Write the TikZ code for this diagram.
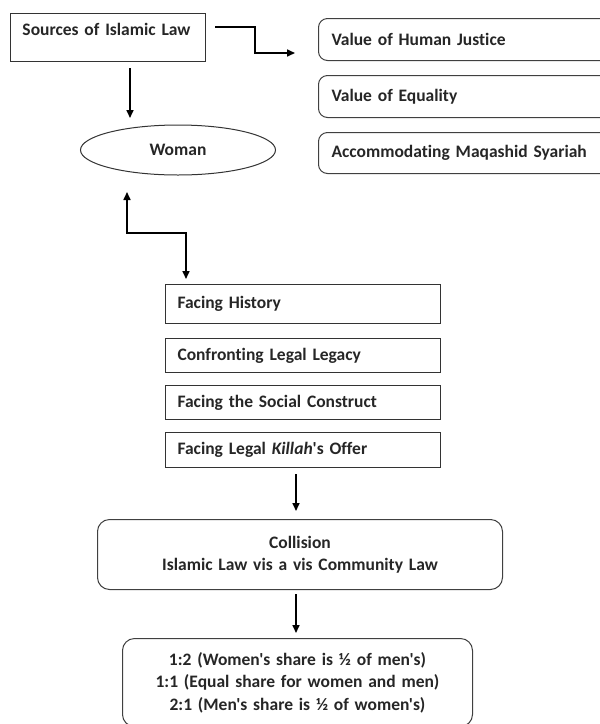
\documentclass[tikz,border=0pt]{standalone}
\usepackage{fontspec}
\setmainfont{Carlito}[Ligatures={TeXOff,NoCommon},WordSpace=0.85]
\usetikzlibrary{shapes.geometric,arrows.meta}
\begin{document}
\begin{tikzpicture}[x=1pt,y=-1pt,
  every node/.style={font=\bfseries\fontsize{17.5}{22.5}\selectfont, text=black!85},
  sqbox/.style={draw=black!80, line width=1pt, anchor=north west, inner xsep=12pt, inner ysep=0pt, align=left},
  rbox/.style={draw=black!75, line width=1pt, rounded corners=9pt, anchor=north west, inner xsep=13pt, inner ysep=0pt, align=left},
  cbox/.style={draw=black!75, line width=1pt, rounded corners=12pt, anchor=north west, inner sep=0pt, align=center},
  arr/.style={line width=1.6pt, -{Triangle[width=7pt,length=8pt]}},
  darr/.style={line width=1.6pt, {Triangle[width=7pt,length=8pt]}-{Triangle[width=7pt,length=8pt]}}
]
\useasboundingbox (0,0) rectangle (600,724);
\clip (0,0) rectangle (600,724);

\node[sqbox, minimum width=195pt, minimum height=48pt, text width=171pt, text depth=16pt] (src) at (10,13) {Sources of Islamic Law};

\node[rbox, minimum width=300pt, minimum height=42pt, text width=274pt] (v1) at (318,18) {Value of Human Justice};
\node[rbox, minimum width=300pt, minimum height=42pt, text width=274pt] (v2) at (318,75) {Value of Equality};
\node[rbox, minimum width=300pt, minimum height=41pt, text width=274pt] (v3) at (318,132) {Accommodating Maqashid Syariah};

\node[ellipse, draw=black!80, line width=1pt, minimum width=195pt, minimum height=50pt, inner sep=0pt] (woman) at (178,150) {Woman};

\node[sqbox, minimum width=275pt, minimum height=39pt, text width=251pt] (f1) at (165,284) {Facing History};
\node[sqbox, minimum width=275pt, minimum height=34pt, text width=251pt] (f2) at (165,338) {Confronting Legal Legacy};
\node[sqbox, minimum width=275pt, minimum height=34pt, text width=251pt] (f3) at (165,385) {Facing the Social Construct};
\node[sqbox, minimum width=275pt, minimum height=35pt, text width=251pt] (f4) at (165,432) {Facing Legal \textit{Killah}'s Offer};

\node[cbox, minimum width=405pt, minimum height=70pt, text width=405pt] (col) at (97,519) {Collision\\Islamic Law vis a vis Community Law};

\node[cbox, minimum width=350pt, minimum height=88pt, text width=350pt] (res) at (122,638) {1:2 (Women's share is ½ of men's)\\1:1 (Equal share for women and men)\\2:1 (Men's share is ½ of women's)};

\coordinate (a1s) at (215,27);
\coordinate (a1m) at (255,40);
\coordinate (a1e) at (295,53);
\draw[arr] (a1s) -| (a1m) |- (a1e);

\coordinate (a2s) at (130,68);
\coordinate (a2e) at (130,118);
\draw[arr] (a2s) -- (a2e);

\coordinate (a3s) at (127,192);
\coordinate (a3m) at (156,233);
\coordinate (a3e) at (186,279);
\draw[darr] (a3s) |- (a3m) -| (a3e);

\coordinate (a4s) at (296,474);
\coordinate (a4e) at (296,511);
\draw[arr] (a4s) -- (a4e);

\coordinate (a5s) at (296,594);
\coordinate (a5e) at (296,633);
\draw[arr] (a5s) -- (a5e);
\end{tikzpicture}
\end{document}
